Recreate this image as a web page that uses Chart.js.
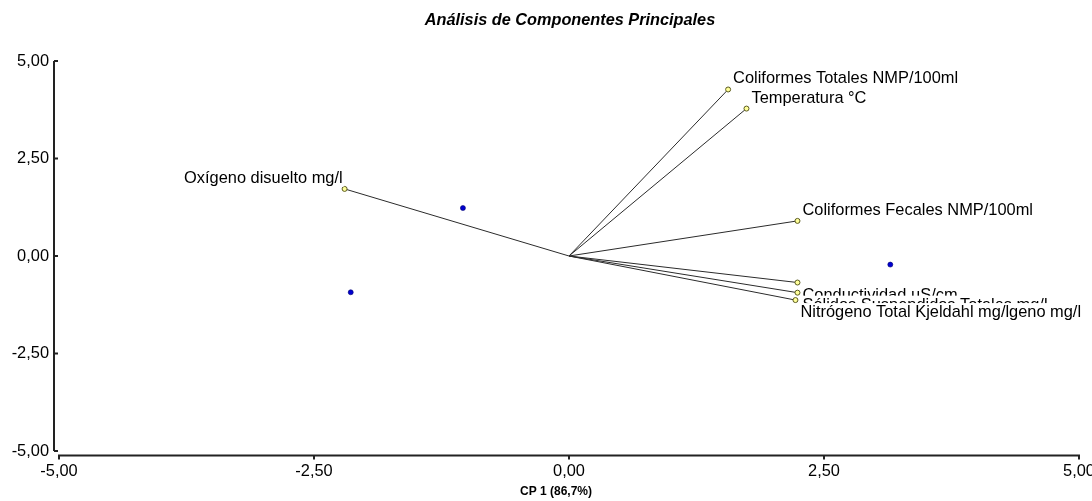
<!DOCTYPE html>
<html>
<head>
<meta charset="utf-8">
<title>ACP</title>
<script src="https://cdn.jsdelivr.net/npm/chart.js@4.4.1/dist/chart.umd.min.js"></script>
<style>
    html, body { margin: 0; padding: 0; background: #fff; }
    #pca { display: block; }
</style>
</head>
<body>
<canvas id="pca" width="1092" height="501"></canvas>
<script>
// Variables (cargas) del biplot
const variables = [
    'Coliformes Totales NMP/100ml',
    'Temperatura °C',
    'Coliformes Fecales NMP/100ml',
    'Oxígeno disuelto mg/l',
    'Conductividad µS/cm',
    'Sólidos Suspendidos Totales mg/l',
    'Nitrógeno Total Kjeldahl mg/lgeno mg/l'
];
const loadX = [1.56, 1.74, 2.24, -2.20, 2.24, 2.24, 2.22];
const loadY = [4.27, 3.78, 0.90, 1.72, -0.68, -0.94, -1.13];

// Observaciones (puntajes)
const scoreX = [-1.04, -2.14, 3.15];
const scoreY = [1.23, -0.93, -0.22];

const xTicks = [-5, -2.5, 0, 2.5, 5];
const yTicks = [-5, -2.5, 0, 2.5, 5];

const FONT = '"Liberation Sans", Arial, sans-serif';
const fmt = v => Number(v).toFixed(2).replace('.', ',');

const datasets = variables.map((name, i) => ({
    label: name,
    data: [{ x: 0, y: 0 }, { x: loadX[i], y: loadY[i] }],
    showLine: true,
    borderColor: '#2b2b2b',
    borderWidth: 1,
    pointRadius: [0, 2.5],
    pointBackgroundColor: '#ffff99',
    pointBorderColor: '#5a5a20',
    pointBorderWidth: 1
}));
datasets.push({
    label: 'Observaciones',
    data: scoreX.map((x, i) => ({ x, y: scoreY[i] })),
    showLine: false,
    pointRadius: 2.5,
    pointBackgroundColor: '#0000d0',
    pointBorderColor: '#000070',
    pointBorderWidth: 0.6
});

// Ejes separados del área, con marcas cortas
const axesPlugin = {
    id: 'axesPlugin',
    beforeDatasetsDraw(chart) {
        const { ctx, chartArea: a, scales: { x, y } } = chart;
        ctx.save();
        ctx.strokeStyle = '#222';
        ctx.lineWidth = 2;
        ctx.beginPath();
        const ax = a.left - 5;
        ctx.moveTo(ax, a.top);
        ctx.lineTo(ax, a.bottom);
        yTicks.forEach(v => {
            const py = y.getPixelForValue(v);
            ctx.moveTo(ax, py);
            ctx.lineTo(ax + 4, py);
        });
        const ay = a.bottom + 4.5;
        ctx.moveTo(a.left - 1, ay);
        ctx.lineTo(a.right + 1, ay);
        xTicks.forEach(v => {
            const px = x.getPixelForValue(v);
            ctx.moveTo(px, ay);
            ctx.lineTo(px, ay + 4);
        });
        ctx.stroke();
        ctx.restore();
    }
};

// Etiquetas de las variables con fondo blanco
const labelsPlugin = {
    id: 'labelsPlugin',
    afterDatasetsDraw(chart) {
        const { ctx, scales: { x, y } } = chart;
        ctx.save();
        ctx.font = '16.4px ' + FONT;
        ctx.textBaseline = 'alphabetic';
        variables.forEach((name, i) => {
            const px = x.getPixelForValue(loadX[i]);
            const py = y.getPixelForValue(loadY[i]);
            const w = ctx.measureText(name).width;
            const left = loadX[i] >= 0;
            const tx = left ? px + 5 : px - 2 - w;
            const base = loadY[i] >= 0 ? py - 6 : py + 17;
            ctx.fillStyle = '#fff';
            ctx.fillRect(tx - 1, base - 14, w + 2, 18);
            ctx.fillStyle = '#000';
            ctx.textAlign = 'left';
            ctx.fillText(name, tx, base);
        });
        ctx.restore();
    }
};

const titlesPlugin = {
    id: 'titlesPlugin',
    afterDraw(chart) {
        const { ctx } = chart;
        ctx.save();
        ctx.fillStyle = '#000';
        ctx.textAlign = 'center';
        ctx.textBaseline = 'middle';
        ctx.font = 'italic bold 16.3px ' + FONT;
        ctx.fillText('Análisis de Componentes Principales', 570, 21);
        ctx.font = 'bold 12px ' + FONT;
        ctx.fillText('CP 1 (86,7%)', 556, 492);
        ctx.restore();
    }
};

new Chart(document.getElementById('pca'), {
    type: 'scatter',
    data: { datasets },
    options: {
        responsive: false,
        animation: false,
        devicePixelRatio: 1,
        layout: { padding: { top: 61, right: 13, left: 0, bottom: 0 } },
        plugins: {
            legend: { display: false },
            tooltip: { enabled: false }
        },
        scales: {
            x: {
                min: -5, max: 5,
                grid: { display: false, drawTicks: false },
                border: { display: false },
                afterBuildTicks: s => { s.ticks = xTicks.map(v => ({ value: v })); },
                afterFit: s => { s.height = 50; s.paddingLeft = 0; s.paddingRight = 0; },
                ticks: {
                    padding: 11,
                    color: '#000',
                    font: { family: FONT, size: 16.4 },
                    maxRotation: 0,
                    callback: v => fmt(v)
                }
            },
            y: {
                min: -5, max: 5,
                grid: { display: false, drawTicks: false },
                border: { display: false },
                afterBuildTicks: s => { s.ticks = yTicks.map(v => ({ value: v })); },
                afterFit: s => { s.width = 59; s.paddingTop = 0; s.paddingBottom = 0; },
                ticks: {
                    padding: 10,
                    color: '#000',
                    font: { family: FONT, size: 16.4 },
                    callback: v => fmt(v)
                }
            }
        }
    },
    plugins: [axesPlugin, labelsPlugin, titlesPlugin]
});
</script>
</body>
</html>
